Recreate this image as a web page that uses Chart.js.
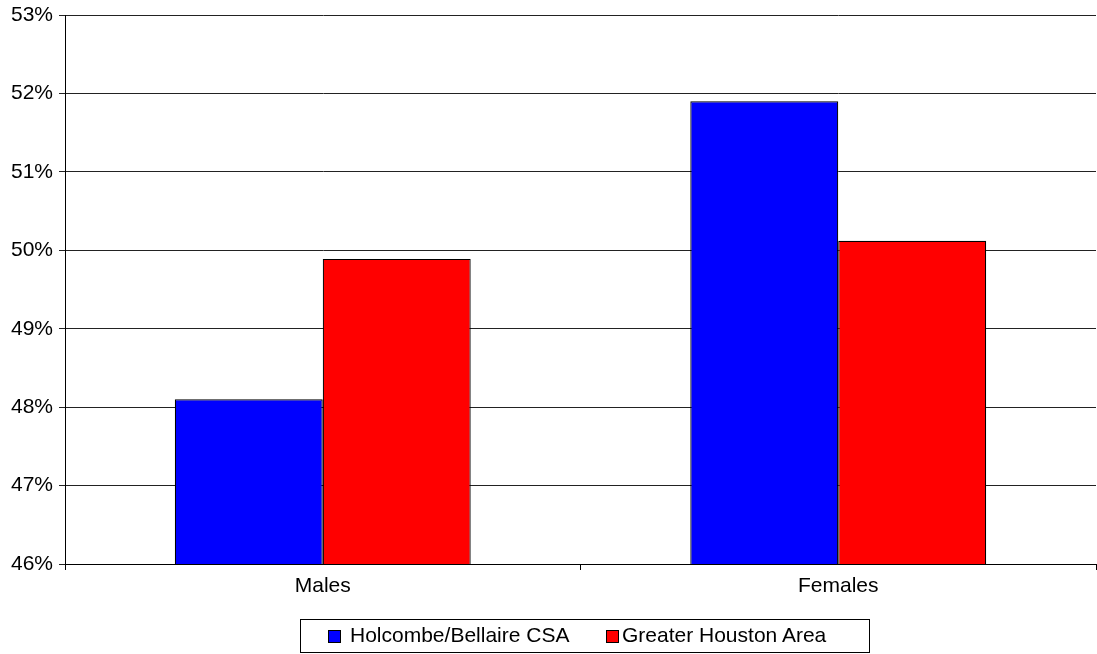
<!DOCTYPE html>
<html>
<head>
<meta charset="utf-8">
<title>Males / Females</title>
<script src="https://cdn.jsdelivr.net/npm/chart.js"></script>
<style>
  html, body { margin: 0; padding: 0; background: #fff; }
  #wrap { position: relative; width: 1097px; height: 654px; }
  #legend { position: absolute; left: 300px; top: 619px; width: 568px; height: 32px;
            border: 1px solid #000; font-family: "Liberation Sans", Arial, sans-serif; font-size: 21px; color: #000; }
  .sw { position: absolute; top: 10px; width: 11px; height: 11px; border: 1px solid #000; }
  .lb { position: absolute; top: 3px; white-space: nowrap; line-height: 24px; }
</style>
</head>
<body>
<div id="wrap">
  <canvas id="chart" width="1097" height="654"></canvas>
  <div id="legend"></div>
</div>
<script>
// Data
const categories = ['Males', 'Females'];
const seriesNames = ['Holcombe/Bellaire CSA', 'Greater Houston Area'];
const holcombe = [48.1, 51.9];
const houston = [49.89, 50.12];
const seriesColors = ['#0000ff', '#ff0000'];
const yTicks = [46, 47, 48, 49, 50, 51, 52, 53];

const FONT = { family: '"Liberation Sans", Arial, sans-serif', size: 21 };

const ctx = document.getElementById('chart').getContext('2d');
const chart = new Chart(ctx, {
  type: 'bar',
  data: {
    labels: categories,
    datasets: [holcombe, houston].map((vals, i) => ({
      label: seriesNames[i],
      data: vals,
      backgroundColor: seriesColors[i],
      borderColor: '#000',
      borderWidth: 1.2,
      borderSkipped: false,
      categoryPercentage: 0.574,
      barPercentage: 1.0
    }))
  },
  options: {
    responsive: false,
    animation: false,
    layout: { padding: { top: 15, right: 1, bottom: 60, left: 0 } },
    plugins: { legend: { display: false }, tooltip: { enabled: false } },
    scales: {
      x: {
        grid: { drawOnChartArea: false, offset: true, tickLength: 6, color: '#000' },
        border: { color: '#000', width: 1 },
        ticks: { color: '#000', font: FONT, padding: 4 },
        afterFit: s => { s.height = 30; }
      },
      y: {
        min: yTicks[0],
        max: yTicks[yTicks.length - 1],
        afterBuildTicks: s => { s.ticks = yTicks.map(v => ({ value: v })); },
        grid: { color: '#222', tickLength: 6 },
        border: { color: '#000', width: 1 },
        ticks: { color: '#000', font: FONT, padding: 6, callback: v => v + '%' },
        // fixed label column, and no extra room reserved for the end labels
        afterFit: s => { s.width = 65; s.paddingTop = 0; s.paddingBottom = 0; }
      }
    }
  }
});

// Boxed legend below the chart, built from the series arrays
const legend = document.getElementById('legend');
const swatchX = [27, 305];
const textX = [49, 321];
seriesNames.forEach((name, i) => {
  const sw = document.createElement('div');
  sw.className = 'sw';
  sw.style.left = swatchX[i] + 'px';
  sw.style.background = seriesColors[i];
  const lb = document.createElement('div');
  lb.className = 'lb';
  lb.style.left = textX[i] + 'px';
  lb.textContent = name;
  legend.appendChild(sw);
  legend.appendChild(lb);
});
</script>
</body>
</html>
